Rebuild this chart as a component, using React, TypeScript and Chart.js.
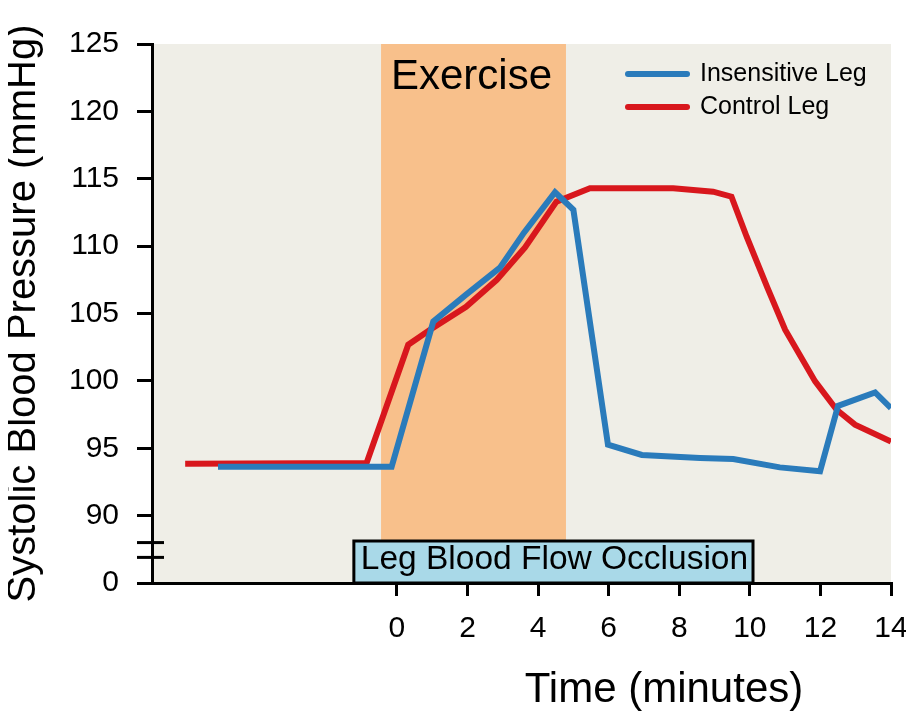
import React, { useEffect, useRef } from 'react';
import { Chart, registerables } from 'chart.js';

Chart.register(...registerables);

// ---- data ----
const insensitiveX = [-5.07, -0.15, 1.03, 1.96, 2.92, 3.6, 4.48, 5.0, 5.98, 6.94, 8.59, 9.53, 10.85, 11.99, 12.5, 13.55, 14.0];
const insensitiveY = [93.63, 93.63, 104.4, 106.4, 108.4, 111.0, 114.0, 112.7, 95.26, 94.5, 94.28, 94.2, 93.58, 93.29, 98.15, 99.14, 97.98];

const controlX = [-6.0, -0.86, 0.32, 0.94, 1.96, 2.83, 3.63, 4.52, 5.47, 7.83, 8.96, 9.48, 9.91, 10.5, 11.0, 11.85, 12.46, 12.98, 14.0];
const controlY = [93.85, 93.9, 102.68, 103.8, 105.5, 107.5, 109.9, 113.3, 114.3, 114.3, 114.04, 113.67, 110.7, 106.9, 103.8, 99.96, 97.86, 96.75, 95.5];

const seriesLabels = ['Insensitive Leg', 'Control Leg'];
const xTicks = [0, 2, 4, 6, 8, 10, 12, 14];
// broken axis: display value 85 stands for 0
const yTicks = [85, 90, 95, 100, 105, 110, 115, 120, 125];
const yTickLabels = ['0', '90', '95', '100', '105', '110', '115', '120', '125'];
const breakMarks = [88.0, 86.9];
const exerciseRange = [-0.45, 4.79];
const occlusionRange = [-1.22, 10.09];
const xRange = [-6.94, 14];
const yRange = [85, 125];

const FONT = '"Liberation Sans", Arial, sans-serif';
const BLUE = '#2a7bbb';
const RED = '#d8171d';

const decorPlugin = {
  id: 'decor',
  beforeDraw(chart: any) {
    const { ctx, chartArea: a, scales } = chart;
    const x = scales.x;
    ctx.save();
    ctx.fillStyle = '#efeee7';
    ctx.fillRect(a.left, a.top, a.right - a.left, a.bottom - a.top);
    const ex0 = x.getPixelForValue(exerciseRange[0]);
    const ex1 = x.getPixelForValue(exerciseRange[1]);
    ctx.fillStyle = '#f8c08b';
    ctx.fillRect(ex0, a.top, ex1 - ex0, a.bottom - a.top);
    ctx.restore();
  },
  afterDraw(chart: any) {
    const { ctx, chartArea: a, scales } = chart;
    const x = scales.x;
    const y = scales.y;
    ctx.save();
    // Exercise label
    const ex0 = x.getPixelForValue(exerciseRange[0]);
    const ex1 = x.getPixelForValue(exerciseRange[1]);
    ctx.fillStyle = '#000';
    ctx.font = `42px ${FONT}`;
    ctx.textAlign = 'center';
    ctx.textBaseline = 'middle';
    ctx.fillText('Exercise', (ex0 + ex1) / 2 - 2, a.top + 33);

    // Occlusion box
    const b0 = x.getPixelForValue(occlusionRange[0]);
    const b1 = x.getPixelForValue(occlusionRange[1]);
    const bt = a.bottom - 42;
    ctx.fillStyle = '#a9d9e8';
    ctx.fillRect(b0, bt, b1 - b0, a.bottom - bt);
    ctx.strokeStyle = '#000';
    ctx.lineWidth = 3;
    ctx.strokeRect(b0, bt, b1 - b0, a.bottom - bt);
    ctx.fillStyle = '#000';
    ctx.font = `33.5px ${FONT}`;
    ctx.fillText('Leg Blood Flow Occlusion', (b0 + b1) / 2 + 1, bt + 19);

    // axis break marks
    ctx.strokeStyle = '#000';
    ctx.lineWidth = 3;
    breakMarks.forEach((v) => {
      const py = y.getPixelForValue(v);
      ctx.beginPath();
      ctx.moveTo(a.left - 15, py);
      ctx.lineTo(a.left + 12, py);
      ctx.stroke();
    });

    // legend
    const ds = chart.data.datasets;
    ds.forEach((d: any, i: number) => {
      const ly = 66 + i * 33;
      ctx.strokeStyle = d.borderColor;
      ctx.lineWidth = 6;
      ctx.lineCap = 'round';
      ctx.beginPath();
      ctx.moveTo(620, ly);
      ctx.lineTo(679, ly);
      ctx.stroke();
      ctx.fillStyle = '#000';
      ctx.font = `25px ${FONT}`;
      ctx.textAlign = 'left';
      ctx.textBaseline = 'middle';
      ctx.fillText(d.label, 692, ly);
    });

    // axis titles
    ctx.fillStyle = '#000';
    ctx.font = `42px ${FONT}`;
    ctx.textAlign = 'center';
    ctx.textBaseline = 'middle';
    ctx.fillText('Time (minutes)', 656, 682);

    ctx.save();
    ctx.translate(16, (a.top + a.bottom) / 2);
    ctx.rotate(-Math.PI / 2);
    ctx.font = `40px ${FONT}`;
    ctx.fillText('Systolic Blood Pressure (mmHg)', 0, 0);
    ctx.restore();

    ctx.restore();
  },
};

export default function App() {
  const ref = useRef<HTMLCanvasElement | null>(null);

  useEffect(() => {
    if (!ref.current) return;
    const chart = new Chart(ref.current, {
      type: 'line',
      data: {
        datasets: [
          {
            label: seriesLabels[0],
            data: insensitiveX.map((v, i) => ({ x: v, y: insensitiveY[i] })),
            borderColor: BLUE,
            backgroundColor: BLUE,
            borderWidth: 6,
            pointRadius: 0,
            tension: 0,
          },
          {
            label: seriesLabels[1],
            data: controlX.map((v, i) => ({ x: v, y: controlY[i] })),
            borderColor: RED,
            backgroundColor: RED,
            borderWidth: 6,
            pointRadius: 0,
            tension: 0,
          },
        ],
      },
      options: {
        animation: false,
        responsive: true,
        maintainAspectRatio: false,
        layout: { padding: { top: 36, right: 15, left: 0, bottom: 0 } },
        plugins: {
          legend: { display: false },
          tooltip: { enabled: false },
        },
        scales: {
          x: {
            type: 'linear',
            min: xRange[0],
            max: xRange[1],
            afterBuildTicks: (s: any) => {
              s.ticks = xTicks.map((v) => ({ value: v }));
            },
            afterFit: (s: any) => {
              s.height = 129;
              s.paddingLeft = 0;
              s.paddingRight = 0;
            },
            border: { display: true, color: '#000', width: 3 },
            grid: { drawOnChartArea: false, drawTicks: true, tickLength: 13, color: '#000', lineWidth: 3 },
            ticks: {
              color: '#000',
              font: { family: FONT, size: 30 },
              padding: 15,
              maxRotation: 0,
              autoSkip: false,
            },
          },
          y: {
            type: 'linear',
            min: yRange[0],
            max: yRange[1],
            afterBuildTicks: (s: any) => {
              s.ticks = yTicks.map((v) => ({ value: v }));
            },
            afterFit: (s: any) => {
              s.width = 144;
              s.paddingTop = 0;
              s.paddingBottom = 0;
            },
            border: { display: true, color: '#000', width: 3 },
            grid: { drawOnChartArea: false, drawTicks: true, tickLength: 15, color: '#000', lineWidth: 3 },
            ticks: {
              color: '#000',
              font: { family: FONT, size: 30 },
              padding: 18,
              autoSkip: false,
              callback: (v: any) => {
                const idx = yTicks.indexOf(Number(v));
                return idx >= 0 ? yTickLabels[idx] : '';
              },
            },
          },
        },
      },
      plugins: [decorPlugin],
    } as any);
    return () => chart.destroy();
  }, []);

  return (
    <div style={{ width: 898, height: 704, position: 'relative' }}>
      <canvas ref={ref} />
    </div>
  );
}
